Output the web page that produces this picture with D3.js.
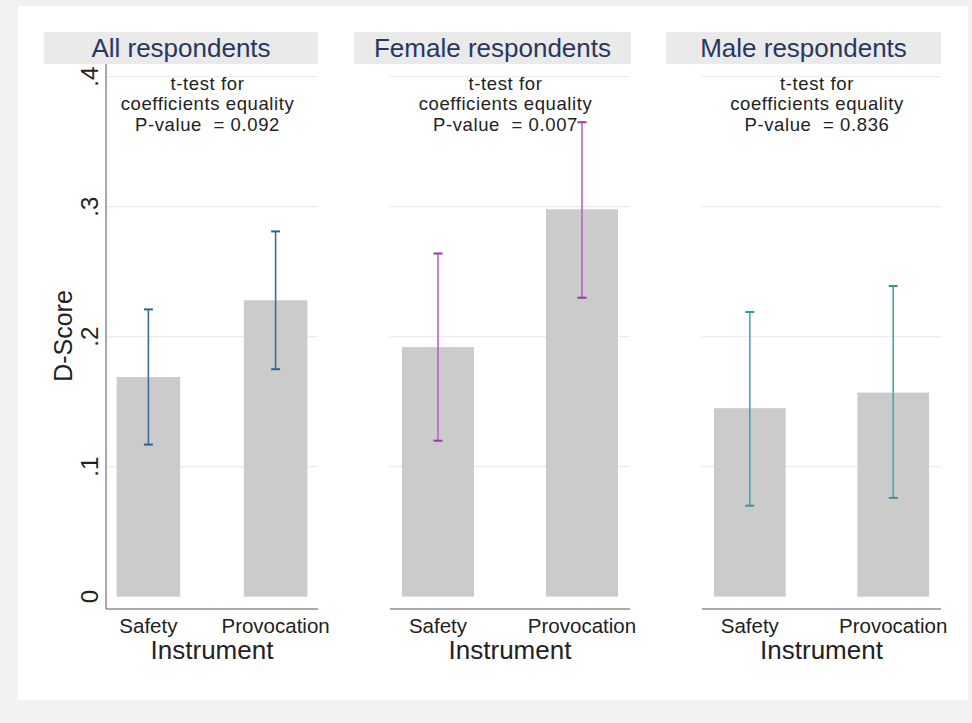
<!DOCTYPE html>
<html>
<head>
<meta charset="utf-8">
<script src="https://cdn.jsdelivr.net/npm/d3@7"></script>
<style>
  body { margin: 0; background: #f2f2f2; }
  text { font-family: "Liberation Sans", Arial, sans-serif; }
</style>
</head>
<body>
<div id="chart"></div>
<script>
// data
var groups = ["All respondents", "Female respondents", "Male respondents"];
var categories = ["Safety", "Provocation"];
var means = [[0.169, 0.228], [0.192, 0.298], [0.145, 0.157]];
var lower = [[0.117, 0.175], [0.120, 0.230], [0.070, 0.076]];
var upper = [[0.221, 0.281], [0.264, 0.365], [0.219, 0.239]];
var pvalues = ["0.092", "0.007", "0.836"];
var yTicks = [0, 0.1, 0.2, 0.3, 0.4];
var tickLabels = ["0", ".1", ".2", ".3", ".4"];
var ciColors = ["#3d6a96", "#b962c8", "#45a9ab"];
var capColors = ["#34628f", "#963aa3", "#2f9a9c"];

var W = 972, H = 723;

// panel layout (pixel boxes)
var panels = [
  {hx0: 44, hx1: 318, px0: 106, px1: 318},
  {hx0: 354, hx1: 631, px0: 390, px1: 630},
  {hx0: 666, hx1: 941, px0: 702, px1: 941}
];
var headTop = 32, headBot = 64, axisY = 609;

var svg = d3.select("#chart").append("svg")
  .attr("width", W).attr("height", H);

svg.append("rect").attr("x", 0).attr("y", 0).attr("width", W).attr("height", H).attr("fill", "#f2f2f2");
svg.append("rect").attr("x", 18).attr("y", 6).attr("width", 950).attr("height", 694).attr("fill", "#ffffff");

var y = d3.scaleLinear().domain([0, 0.4]).range([596.7, 76.7]);

groups.forEach(function(name, gi) {
  var p = panels[gi];
  var g = svg.append("g");

  var x = d3.scaleBand().domain(categories)
    .range([p.px0, p.px1])
    .paddingInner(0.5).paddingOuter(1 / 12);

  // header strip
  g.append("rect")
    .attr("x", p.hx0).attr("y", headTop)
    .attr("width", p.hx1 - p.hx0).attr("height", headBot - headTop)
    .attr("fill", "#eaeaea");
  g.append("text")
    .attr("x", (p.hx0 + p.hx1) / 2).attr("y", headTop + 24.5)
    .attr("text-anchor", "middle")
    .attr("font-size", 26)
    .attr("fill", "#27375f")
    .text(name);

  // gridlines
  g.selectAll(".grid")
    .data(yTicks.filter(function(d) { return d > 0; }))
    .enter().append("line")
    .attr("x1", p.px0).attr("x2", p.px1)
    .attr("y1", function(d) { return y(d); })
    .attr("y2", function(d) { return y(d); })
    .attr("stroke", "#ececec").attr("stroke-width", 1.2);

  // bars
  g.selectAll(".bar")
    .data(categories)
    .enter().append("rect")
    .attr("x", function(d) { return x(d); })
    .attr("width", x.bandwidth())
    .attr("y", function(d, i) { return y(means[gi][i]); })
    .attr("height", function(d, i) { return y(0) - y(means[gi][i]); })
    .attr("fill", "#cbcbcb");

  // error bars
  var cx = function(d) { return x(d) + x.bandwidth() / 2; };
  g.selectAll(".ci")
    .data(categories)
    .enter().append("line")
    .attr("x1", cx).attr("x2", cx)
    .attr("y1", function(d, i) { return y(lower[gi][i]); })
    .attr("y2", function(d, i) { return y(upper[gi][i]); })
    .attr("stroke", ciColors[gi]).attr("stroke-width", 1.6);
  [lower, upper].forEach(function(arr) {
    g.selectAll(null)
      .data(categories)
      .enter().append("line")
      .attr("x1", function(d) { return cx(d) - 4.5; })
      .attr("x2", function(d) { return cx(d) + 4.5; })
      .attr("y1", function(d, i) { return y(arr[gi][i]); })
      .attr("y2", function(d, i) { return y(arr[gi][i]); })
      .attr("stroke", capColors[gi]).attr("stroke-width", 2);
  });

  // x axis line
  g.append("line")
    .attr("x1", p.px0).attr("x2", p.px1)
    .attr("y1", axisY).attr("y2", axisY)
    .attr("stroke", "#8c8c8c").attr("stroke-width", 1.5);

  // category labels
  g.selectAll(".xlab")
    .data(categories)
    .enter().append("text")
    .attr("x", cx).attr("y", 633)
    .attr("text-anchor", "middle")
    .attr("font-size", 20.5).attr("fill", "#222")
    .text(function(d) { return d; });

  g.append("text")
    .attr("x", (p.px0 + p.px1) / 2).attr("y", 659)
    .attr("text-anchor", "middle")
    .attr("font-size", 26).attr("fill", "#222")
    .text("Instrument");

  // t-test note, one text per line
  var nx = (p.px0 + p.px1) / 2 - 4.5;
  ["t-test for", "coefficients equality", "P-value  = " + pvalues[gi]].forEach(function(t, li) {
    g.append("text")
      .attr("x", nx).attr("y", 89.5 + li * 20.7)
      .attr("text-anchor", "middle")
      .attr("font-size", 18.5).attr("fill", "#222")
      .attr("letter-spacing", 0.6)
      .attr("xml:space", "preserve")
      .style("white-space", "pre")
      .text(t);
  });

  // y axis only on the first panel
  if (gi === 0) {
    g.append("line")
      .attr("x1", p.px0).attr("x2", p.px0)
      .attr("y1", headBot).attr("y2", axisY)
      .attr("stroke", "#8c8c8c").attr("stroke-width", 1.5);
    g.selectAll(".ytl")
      .data(yTicks)
      .enter().append("text")
      .attr("transform", function(d) { return "translate(98," + y(d) + ") rotate(-90)"; })
      .attr("text-anchor", "middle")
      .attr("font-size", 24).attr("fill", "#222")
      .text(function(d, i) { return tickLabels[i]; });
    g.append("text")
      .attr("transform", "translate(72,336) rotate(-90)")
      .attr("text-anchor", "middle")
      .attr("font-size", 25).attr("fill", "#222")
      .text("D-Score");
  }
});
</script>
</body>
</html>
